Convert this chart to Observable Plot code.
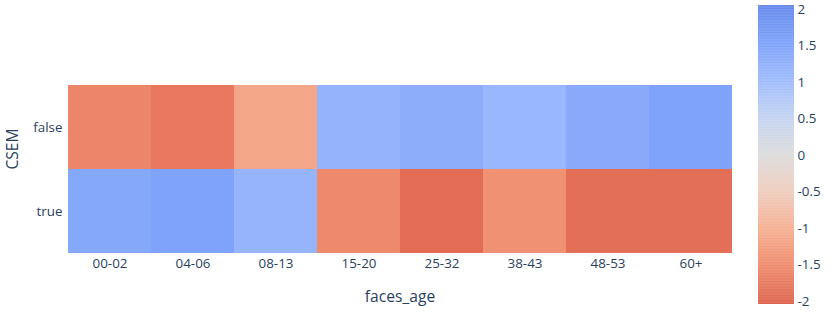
<!DOCTYPE html>
<html><head><meta charset="utf-8">
<script src="https://cdn.jsdelivr.net/npm/d3@7"></script>
<script src="https://cdn.jsdelivr.net/npm/@observablehq/plot@0.6"></script>
<style>
body{margin:0;background:#fff;font-family:"Open Sans",sans-serif;}
#wrap{position:relative;width:830px;height:313px;}
#cb{position:absolute;left:740px;top:0;}
svg{overflow:visible}
</style></head><body>
<div id="wrap"><div id="main"></div><div id="cb"></div></div>
<script>
const ages = ["00-02","04-06","08-13","15-20","25-32","38-43","48-53","60+"];
const csem = ["false","true"];
const valuesFalse = [-1.6,-1.8,-1.15,1.2,1.32,1.12,1.38,1.55];
const valuesTrue = [1.42,1.55,1.18,-1.55,-1.95,-1.45,-1.9,-1.9];
const colorTicks = [-2,-1.5,-1,-0.5,0,0.5,1,1.5,2];
const colorDomain = [-2.04, 2.055];
const colorStops = ["#df654f","#ef8b6d","#f6b092","#efcdbd","#dddcdc","#c4d3f1","#9ebcfd","#7fa2fa","#6689ec"];

const data = [];
ages.forEach((a,i)=>{data.push({age:a,csem:"false",v:valuesFalse[i]});});
ages.forEach((a,i)=>{data.push({age:a,csem:"true",v:valuesTrue[i]});});

const interp = d3.piecewise(d3.interpolateRgb, colorStops);
const colorOpts = {type:"linear", domain:colorDomain, interpolate:()=>interp};
const font = '"Open Sans", sans-serif';
const tc = "#2a3f5f";

const main = Plot.plot({
  width:830, height:313,
  marginLeft:65, marginRight:96, marginTop:85, marginBottom:60,
  style:{fontFamily:font, fontSize:"13.4px", color:tc, background:"transparent"},
  x:{domain:ages, padding:0, label:null},
  y:{domain:csem, padding:0, label:null},
  color:colorOpts,
  marks:[
    Plot.cell(data,{x:"age", y:"csem", fill:"v", inset:0}),
    Plot.axisX({tickSize:0, tickPadding:5, label:null, fontSize:13.4, fill:tc}),
    Plot.axisY({tickSize:0, tickPadding:3, label:null, fontSize:13.4, fill:tc}),
    Plot.text(["faces_age"],{text:d=>d, frameAnchor:"bottom", dy:43, fontSize:15.6, fill:tc, lineAnchor:"middle"}),
    Plot.text(["CSEM"],{text:d=>d, frameAnchor:"left", dx:-53, rotate:-90, fontSize:15.6, fill:tc, lineAnchor:"middle"})
  ]
});
document.getElementById("main").appendChild(main);

const step = 0.01;
const bar = d3.range(colorDomain[0], colorDomain[1], step).map(v=>({v}));
const cb = Plot.plot({
  width:90, height:313,
  marginLeft:18, marginRight:36, marginTop:5, marginBottom:9,
  style:{fontFamily:font, fontSize:"13.4px", color:tc, background:"transparent"},
  x:{axis:null, domain:[0,1]},
  y:{domain:colorDomain, label:null},
  color:colorOpts,
  marks:[
    Plot.rect(bar,{x1:0, x2:1, y1:"v", y2:d=>Math.min(d.v+step+0.005, colorDomain[1]), fill:d=>d.v+step/2}),
    Plot.axisY(colorTicks,{anchor:"right", tickSize:0, tickPadding:3, label:null, fontSize:13.4, fill:tc, tickFormat:d=>String(d)})
  ]
});
document.getElementById("cb").appendChild(cb);
</script>
</body></html>
